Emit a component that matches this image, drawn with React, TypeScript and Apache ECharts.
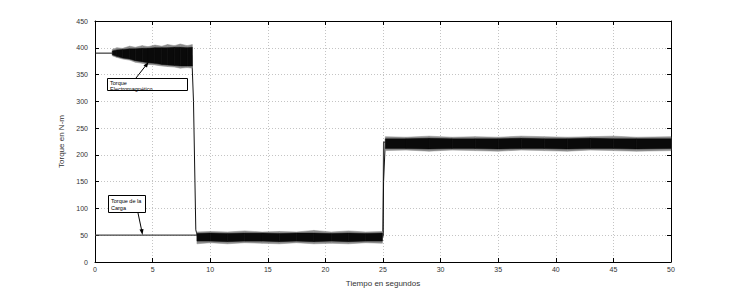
import React, { useEffect, useRef } from "react";
import * as echarts from "echarts";

// Axis ticks
const xTicks = { min: 0, max: 50, interval: 5 };
const yTicks = { min: 0, max: 450, interval: 50 };

// Electromagnetic torque (centre trace): time [s], torque [N-m]
const emTime = [0, 1.5, 8.4, 8.55, 8.75, 8.9, 25.0, 25.05, 25.2, 50];
const emTorque = [390, 390, 386, 300, 60, 47, 47, 150, 224, 222];

// Load torque
const loadTime = [0, 8.6, 25.0, 25.05, 50];
const loadTorque = [50, 50, 50, 224, 224];

// Oscillation envelopes: [time, lower, upper]
const bandStartTime = [1.5, 1.9, 2.4, 3.0, 3.5, 4.1, 4.6, 5.2, 5.8, 6.3, 6.9, 7.4, 8.0, 8.45];
const bandStartOuterLow = [385, 382, 379, 377, 373, 371, 369, 368, 366, 365, 364, 362, 363, 362];
const bandStartOuterHigh = [397, 400, 399, 403, 401, 404, 402, 405, 403, 406, 404, 407, 404, 406];
const bandStartCoreLow = [387, 384, 381, 379, 376, 374, 372, 371, 369, 368, 367, 366, 366, 366];
const bandStartCoreHigh = [394, 396, 397, 398, 398, 399, 399, 400, 400, 400, 401, 401, 400, 401];

const bandMidTime = [8.85, 10, 11.5, 13, 14.5, 16, 17.5, 19, 20.5, 22, 23.5, 24.95];
const bandMidOuterLow = [34, 36, 34, 36, 35, 34, 36, 34, 35, 34, 36, 35];
const bandMidOuterHigh = [56, 57, 56, 58, 56, 57, 56, 59, 56, 58, 56, 57];
const bandMidCoreLow = [39, 39, 38, 39, 39, 38, 39, 38, 39, 38, 39, 39];
const bandMidCoreHigh = [53, 54, 53, 54, 54, 53, 54, 54, 53, 54, 53, 54];

const bandEndTime = [25.2, 27, 29, 31, 33, 35, 37, 39, 41, 43, 45, 47, 50];
const bandEndOuterLow = [208, 209, 207, 209, 208, 207, 209, 208, 207, 209, 208, 207, 208];
const bandEndOuterHigh = [234, 233, 235, 233, 234, 233, 235, 234, 233, 234, 235, 233, 234];
const bandEndCoreLow = [212, 212, 211, 212, 212, 211, 212, 212, 211, 212, 212, 211, 212];
const bandEndCoreHigh = [230, 230, 231, 230, 230, 230, 231, 230, 230, 231, 230, 230, 230];

const zip3 = (t: number[], lo: number[], hi: number[]) => t.map((v, i) => [v, lo[i], hi[i]]);
const zip2 = (t: number[], y: number[]) => t.map((v, i) => [v, y[i]]);

function bandSeries(data: number[][], color: string, z: number) {
  return {
    type: "custom",
    z,
    silent: true,
    data,
    renderItem: (params: any, api: any) => {
      const i = params.dataIndex;
      if (i >= data.length - 1) return null;
      const a = data[i];
      const b = data[i + 1];
      const p1 = api.coord([a[0], a[2]]);
      const p2 = api.coord([b[0], b[2]]);
      const p3 = api.coord([b[0], b[1]]);
      const p4 = api.coord([a[0], a[1]]);
      return {
        type: "polygon",
        shape: { points: [p1, p2, p3, p4] },
        style: { fill: color, stroke: color, lineWidth: 0.5 },
      };
    },
  };
}

export default function App() {
  const ref = useRef<HTMLDivElement>(null);
  useEffect(() => {
    if (!ref.current) return;
    const chart = echarts.init(ref.current, undefined, { renderer: "svg" });
    const font = "Liberation Sans, Arial, sans-serif";
    const gridLine = { show: true, lineStyle: { color: "#c4c4c4", type: [1, 2], width: 1 } };
    const axisLine = { show: true, onZero: false, lineStyle: { color: "#000", width: 1 } };
    chart.setOption({
      animation: false,
      backgroundColor: "#fff",
      grid: { left: 95, right: 71, top: 21, bottom: 35, containLabel: false },
      xAxis: [
        {
          type: "value",
          ...xTicks,
          axisLine,
          axisTick: { show: true, inside: true, length: 4, lineStyle: { color: "#000" } },
          splitLine: gridLine,
          axisLabel: { fontSize: 7, color: "#333", fontFamily: font, margin: 4 },
          name: "Tiempo en segundos",
          nameLocation: "middle",
          nameGap: 17,
          nameTextStyle: { fontSize: 8, color: "#333", fontFamily: font },
        },
        {
          type: "value",
          position: "top",
          ...xTicks,
          axisLine,
          axisTick: { show: true, inside: true, length: 4, lineStyle: { color: "#000" } },
          splitLine: { show: false },
          axisLabel: { show: false },
        },
      ],
      yAxis: [
        {
          type: "value",
          ...yTicks,
          axisLine,
          axisTick: { show: true, inside: true, length: 4, lineStyle: { color: "#000" } },
          splitLine: gridLine,
          axisLabel: { fontSize: 7, color: "#333", fontFamily: font, margin: 7 },
          name: "Torque en N-m",
          nameLocation: "middle",
          nameGap: 19,
          nameTextStyle: { fontSize: 8, color: "#333", fontFamily: font },
        },
        {
          type: "value",
          position: "right",
          ...yTicks,
          axisLine,
          axisTick: { show: true, inside: true, length: 4, lineStyle: { color: "#000" } },
          splitLine: { show: false },
          axisLabel: { show: false },
        },
      ],
      series: [
        {
          type: "line",
          name: "Torque de la Carga",
          data: zip2(loadTime, loadTorque),
          showSymbol: false,
          lineStyle: { color: "#444", width: 1.2 },
          z: 2,
        },
        {
          type: "line",
          name: "Torque Electromagnético",
          data: zip2(emTime, emTorque),
          showSymbol: false,
          lineStyle: { color: "#111", width: 1 },
          z: 3,
        },
        bandSeries(zip3(bandStartTime, bandStartOuterLow, bandStartOuterHigh), "#8a8a8a", 4),
        bandSeries(zip3(bandStartTime, bandStartCoreLow, bandStartCoreHigh), "#0a0a0a", 5),
        bandSeries(zip3(bandMidTime, bandMidOuterLow, bandMidOuterHigh), "#8a8a8a", 4),
        bandSeries(zip3(bandMidTime, bandMidCoreLow, bandMidCoreHigh), "#0a0a0a", 5),
        bandSeries(zip3(bandEndTime, bandEndOuterLow, bandEndOuterHigh), "#8a8a8a", 4),
        bandSeries(zip3(bandEndTime, bandEndCoreLow, bandEndCoreHigh), "#0a0a0a", 5),
      ],
      graphic: [
        // Annotation: electromagnetic torque
        {
          type: "line",
          z: 20,
          shape: { x1: 136, y1: 78, x2: 147, y2: 64 },
          style: { stroke: "#000", lineWidth: 1 },
        },
        {
          type: "polygon",
          z: 20,
          shape: { points: [[148.5, 62], [143.5, 65.5], [147, 67.5]] },
          style: { fill: "#000" },
        },
        {
          type: "rect",
          z: 20,
          shape: { x: 107.5, y: 78.5, width: 80, height: 12 },
          style: { fill: "#fff", stroke: "#000", lineWidth: 1 },
        },
        {
          type: "text",
          z: 21,
          x: 110,
          y: 80,
          style: { text: "Torque\nElectromagnético", fontSize: 5.5, lineHeight: 6, fill: "#000", fontFamily: font },
        },
        // Annotation: load torque
        {
          type: "line",
          z: 20,
          shape: { x1: 138, y1: 213, x2: 142, y2: 232 },
          style: { stroke: "#000", lineWidth: 1 },
        },
        {
          type: "polygon",
          z: 20,
          shape: { points: [[142.5, 235], [139.5, 229.5], [143.5, 229]] },
          style: { fill: "#000" },
        },
        {
          type: "rect",
          z: 20,
          shape: { x: 108.5, y: 195.5, width: 37, height: 17 },
          style: { fill: "#fff", stroke: "#000", lineWidth: 1 },
        },
        {
          type: "text",
          z: 21,
          x: 111,
          y: 197,
          style: { text: "Torque de la\nCarga", fontSize: 5.5, lineHeight: 7, fill: "#000", fontFamily: font },
        },
      ],
    });
    return () => chart.dispose();
  }, []);
  return (
    <div
      ref={ref}
      style={{ position: "fixed", left: 0, top: 0, width: 742, height: 297, background: "#fff" }}
    />
  );
}
